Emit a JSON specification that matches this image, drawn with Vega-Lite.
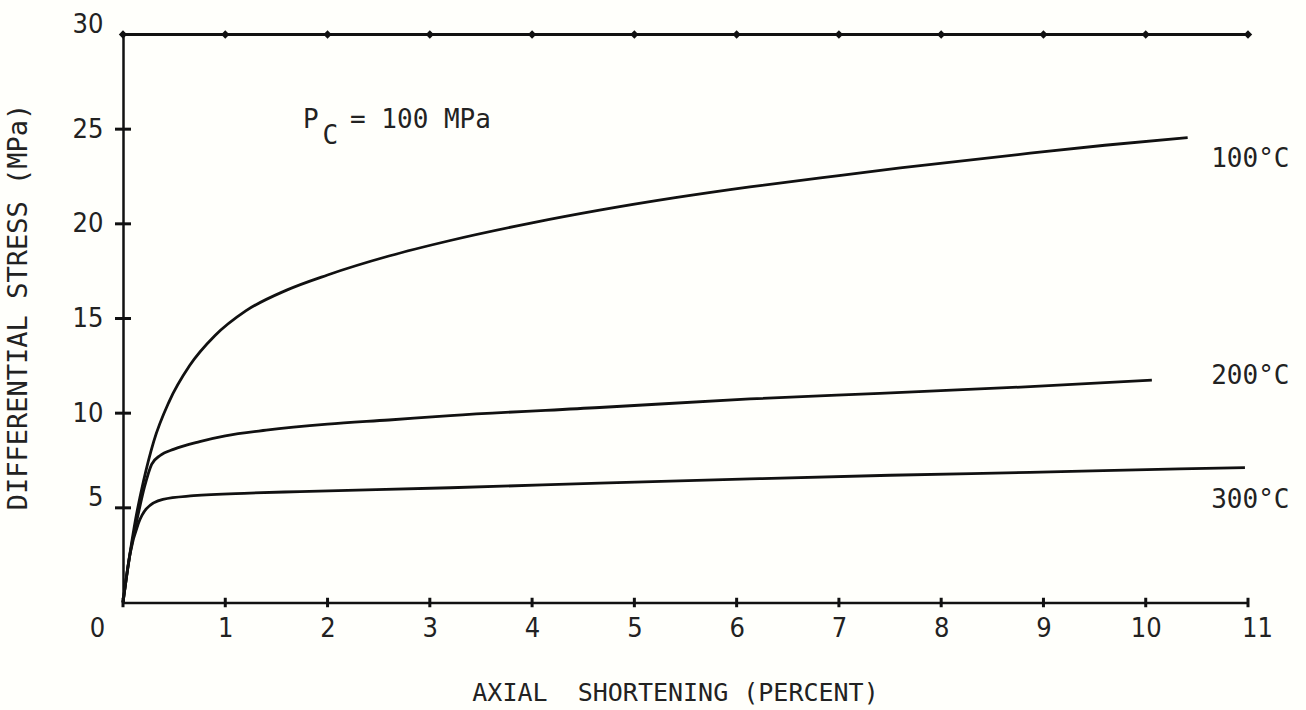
{
  "$schema": "https://vega.github.io/schema/vega-lite/v6.json",
  "width": 1125,
  "height": 568,
  "autosize": {"type": "none"},
  "padding": {"left": 123, "top": 34.5, "right": 58, "bottom": 107.5},
  "background": "#fffffb",
  "config": {
    "view": {"stroke": null},
    "font": "DejaVu Sans Condensed, sans-serif"
  },
  "datasets": {
    "curves": [
      {"temp": "100°C", "x": 0, "y": 0},
      {"temp": "100°C", "x": 0.04, "y": 1.6},
      {"temp": "100°C", "x": 0.08, "y": 3.0},
      {"temp": "100°C", "x": 0.12, "y": 4.3},
      {"temp": "100°C", "x": 0.2, "y": 6.4},
      {"temp": "100°C", "x": 0.3, "y": 8.5},
      {"temp": "100°C", "x": 0.45, "y": 10.6},
      {"temp": "100°C", "x": 0.65, "y": 12.5},
      {"temp": "100°C", "x": 0.9, "y": 14.1},
      {"temp": "100°C", "x": 1.2, "y": 15.4},
      {"temp": "100°C", "x": 1.6, "y": 16.5},
      {"temp": "100°C", "x": 2.0, "y": 17.3},
      {"temp": "100°C", "x": 2.6, "y": 18.3},
      {"temp": "100°C", "x": 3.2, "y": 19.12},
      {"temp": "100°C", "x": 4.0, "y": 20.05},
      {"temp": "100°C", "x": 4.66, "y": 20.72},
      {"temp": "100°C", "x": 5.4, "y": 21.38},
      {"temp": "100°C", "x": 6.13, "y": 21.95},
      {"temp": "100°C", "x": 7.0, "y": 22.55},
      {"temp": "100°C", "x": 7.6, "y": 22.95},
      {"temp": "100°C", "x": 8.87, "y": 23.73},
      {"temp": "100°C", "x": 9.6, "y": 24.15},
      {"temp": "100°C", "x": 10.41, "y": 24.55},
      {"temp": "200°C", "x": 0, "y": 0},
      {"temp": "200°C", "x": 0.07, "y": 2.6},
      {"temp": "200°C", "x": 0.15, "y": 4.7},
      {"temp": "200°C", "x": 0.21, "y": 6.1},
      {"temp": "200°C", "x": 0.28, "y": 7.3},
      {"temp": "200°C", "x": 0.36, "y": 7.75},
      {"temp": "200°C", "x": 0.5, "y": 8.1},
      {"temp": "200°C", "x": 0.75, "y": 8.5},
      {"temp": "200°C", "x": 1.0, "y": 8.8},
      {"temp": "200°C", "x": 1.4, "y": 9.1},
      {"temp": "200°C", "x": 2.0, "y": 9.42},
      {"temp": "200°C", "x": 2.6, "y": 9.64},
      {"temp": "200°C", "x": 3.2, "y": 9.87},
      {"temp": "200°C", "x": 4.66, "y": 10.3},
      {"temp": "200°C", "x": 6.13, "y": 10.75},
      {"temp": "200°C", "x": 7.4, "y": 11.05},
      {"temp": "200°C", "x": 8.87, "y": 11.4},
      {"temp": "200°C", "x": 10.06, "y": 11.75},
      {"temp": "300°C", "x": 0, "y": 0},
      {"temp": "300°C", "x": 0.07, "y": 2.6},
      {"temp": "300°C", "x": 0.15, "y": 4.17},
      {"temp": "300°C", "x": 0.23, "y": 4.96},
      {"temp": "300°C", "x": 0.39, "y": 5.45},
      {"temp": "300°C", "x": 0.69, "y": 5.64},
      {"temp": "300°C", "x": 1.24, "y": 5.78},
      {"temp": "300°C", "x": 1.73, "y": 5.86},
      {"temp": "300°C", "x": 3.2, "y": 6.06},
      {"temp": "300°C", "x": 4.66, "y": 6.3},
      {"temp": "300°C", "x": 6.13, "y": 6.53},
      {"temp": "300°C", "x": 7.5, "y": 6.72},
      {"temp": "300°C", "x": 8.87, "y": 6.87},
      {"temp": "300°C", "x": 10.33, "y": 7.06},
      {"temp": "300°C", "x": 10.97, "y": 7.12}
    ],
    "xticks": [
      {"v": 0}, {"v": 1}, {"v": 2}, {"v": 3}, {"v": 4}, {"v": 5},
      {"v": 6}, {"v": 7}, {"v": 8}, {"v": 9}, {"v": 10}, {"v": 11}
    ],
    "yticks": [
      {"v": 5}, {"v": 10}, {"v": 15}, {"v": 20}, {"v": 25}
    ],
    "endLabels": [
      {"temp": "100°C", "y": 23.45},
      {"temp": "200°C", "y": 11.97},
      {"temp": "300°C", "y": 5.4}
    ]
  },
  "layer": [
    {
      "data": {"name": "curves"},
      "mark": {"type": "line", "interpolate": "monotone", "color": "#111", "strokeWidth": 2.8},
      "encoding": {
        "x": {
          "field": "x",
          "type": "quantitative",
          "scale": {"domain": [0, 11], "nice": false, "zero": false},
          "axis": {
            "values": [0, 1, 2, 3, 4, 5, 6, 7, 8, 9, 10, 11],
            "format": "d",
            "title": "AXIAL\u00a0\u00a0SHORTENING (PERCENT)",
            "grid": false,
            "domainColor": "#111",
            "domainWidth": 2.5,
            "tickSize": 0,
            "labelFlush": false,
            "labelPadding": 13,
            "labelFontSize": 27,
            "labelColor": "#222",
            "labelOffset": {"condition": [{"test": "datum.value == 0", "value": -26}, {"test": "datum.value == 11", "value": 9}], "value": 0},
            "titleFont": "DejaVu Sans Mono",
            "titleFontSize": 25,
            "titleFontWeight": "normal",
            "titleColor": "#222",
            "titleX": 552,
            "titleY": 90,
            "titleBaseline": "middle",
            "titleAlign": "center"
          }
        },
        "y": {
          "field": "y",
          "type": "quantitative",
          "scale": {"domain": [0, 30], "nice": false},
          "axis": {
            "values": [5, 10, 15, 20, 25, 30],
            "title": "DIFFERENTIAL STRESS (MPa)",
            "grid": false,
            "domainColor": "#111",
            "domainWidth": 2.5,
            "tickSize": 0,
            "labelPadding": 20,
            "labelFontSize": 27,
            "labelColor": "#222",
            "labelOffset": {"condition": [{"test": "datum.value == 30", "value": -10}, {"test": "datum.value == 5", "value": -10}], "value": 0},
            "titleFont": "DejaVu Sans Mono",
            "titleFontSize": 27,
            "titleFontWeight": "normal",
            "titleColor": "#222",
            "titleAngle": -90,
            "titleX": -105,
            "titleY": 272,
            "titleBaseline": "middle",
            "titleAlign": "center"
          }
        },
        "detail": {"field": "temp", "type": "nominal"}
      }
    },
    {
      "data": {"name": "xticks"},
      "mark": {"type": "line", "color": "#111", "strokeWidth": 2.8},
      "encoding": {
        "x": {"field": "v", "type": "quantitative"},
        "y": {"datum": 30, "type": "quantitative"}
      }
    },
    {
      "data": {"name": "xticks"},
      "mark": {"type": "point", "shape": "diamond", "filled": true, "color": "#111", "opacity": 1},
      "encoding": {
        "x": {"field": "v", "type": "quantitative"},
        "y": {"datum": 30, "type": "quantitative"},
        "size": {"value": 70}
      }
    },
    {
      "data": {"name": "xticks"},
      "mark": {"type": "point", "shape": "M0,-1L0,1", "filled": false, "color": "#111", "strokeWidth": 3, "opacity": 1},
      "encoding": {
        "x": {"field": "v", "type": "quantitative"},
        "y": {"datum": 0, "type": "quantitative"},
        "size": {"value": 90}
      }
    },
    {
      "data": {"name": "yticks"},
      "mark": {"type": "point", "shape": "M-1,0L1,0", "filled": false, "color": "#111", "strokeWidth": 3, "opacity": 1},
      "encoding": {
        "x": {"datum": 0, "type": "quantitative"},
        "y": {"field": "v", "type": "quantitative"},
        "size": {"value": 256}
      }
    },
    {
      "data": {"name": "endLabels"},
      "mark": {"type": "text", "align": "left", "baseline": "middle", "font": "DejaVu Sans Mono", "fontSize": 26, "color": "#222"},
      "encoding": {
        "x": {"datum": 10.64, "type": "quantitative"},
        "y": {"field": "y", "type": "quantitative"},
        "text": {"field": "temp"}
      }
    },
    {
      "data": {"values": [{}]},
      "mark": {"type": "text", "align": "left", "baseline": "middle", "font": "DejaVu Sans Mono", "fontSize": 26, "color": "#222"},
      "encoding": {
        "x": {"datum": 1.76, "type": "quantitative"},
        "y": {"datum": 25.5, "type": "quantitative"},
        "text": {"value": "P"}
      }
    },
    {
      "data": {"values": [{}]},
      "mark": {"type": "text", "align": "left", "baseline": "middle", "font": "DejaVu Sans Mono", "fontSize": 26, "color": "#222"},
      "encoding": {
        "x": {"datum": 1.95, "type": "quantitative"},
        "y": {"datum": 24.65, "type": "quantitative"},
        "text": {"value": "C"}
      }
    },
    {
      "data": {"values": [{}]},
      "mark": {"type": "text", "align": "left", "baseline": "middle", "font": "DejaVu Sans Mono", "fontSize": 26, "color": "#222"},
      "encoding": {
        "x": {"datum": 2.22, "type": "quantitative"},
        "y": {"datum": 25.5, "type": "quantitative"},
        "text": {"value": "= 100 MPa"}
      }
    }
  ]
}
